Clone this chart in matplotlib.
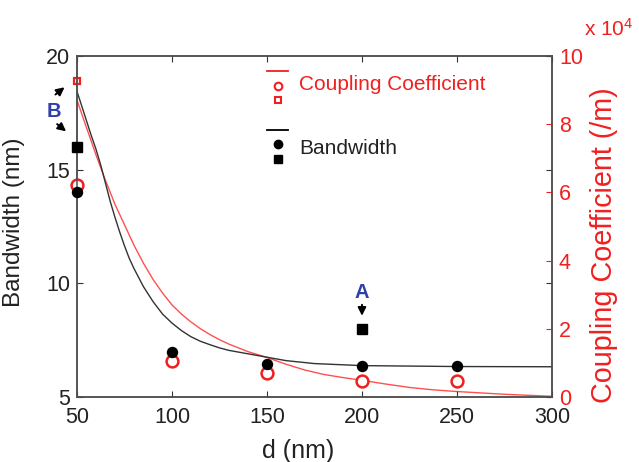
import matplotlib
matplotlib.use("Agg")
import matplotlib.pyplot as plt

plt.rcParams['font.family'] = ['Liberation Sans', 'DejaVu Sans']
plt.rcParams['mathtext.default'] = 'regular'

RED = '#f02020'
DARK = '#333333'
BLUE = '#3040a8'

# measured points
d_points = [50, 100, 150, 200, 250]
bandwidth_pts = [14.0, 7.0, 6.45, 6.37, 6.37]
coupling_pts = [6.22, 1.06, 0.71, 0.47, 0.47]   # x 10^4 /m

# special cases A (d=200) and B (d=50)
d_special = [50, 200]
bandwidth_special = [16.0, 8.0]
coupling_special = [9.28, 1.98]

# fitted curves
d_fit = [50, 52.5, 55, 57.5, 60, 62.5, 65, 67.5, 70, 72.5, 75, 77.5, 80, 85,
         90, 95, 100, 105, 110, 115, 120, 125, 130, 140, 150, 160, 175, 200,
         250, 300]
bandwidth_fit = [18.44, 17.8, 17.15, 16.5, 15.9, 15.2, 14.4, 13.6, 12.9,
                 12.25, 11.65, 11.1, 10.65, 9.85, 9.2, 8.65, 8.25, 7.92, 7.65,
                 7.45, 7.3, 7.16, 7.05, 6.9, 6.75, 6.6, 6.47, 6.38, 6.34, 6.33]
d_cfit = [50, 52.5, 55, 57.5, 60, 62.5, 65, 67.5, 70, 72.5, 75, 77.5, 80, 85,
          90, 95, 100, 105, 110, 115, 120, 125, 130, 140, 150, 160, 170, 180,
          190, 200, 212.5, 225, 237.5, 250, 275, 300]
coupling_fit = [8.71, 8.3, 7.9, 7.5, 7.1, 6.72, 6.35, 6.0, 5.65, 5.35, 5.05,
                4.75, 4.45, 3.92, 3.45, 3.05, 2.7, 2.43, 2.2, 2.0, 1.83, 1.68,
                1.55, 1.33, 1.16, 0.96, 0.79, 0.66, 0.57, 0.49, 0.38, 0.28,
                0.21, 0.16, 0.08, 0.02]

fig = plt.figure(figsize=(6.39, 4.62), dpi=100)
ax = fig.add_axes([0.1205, 0.1407, 0.7433, 0.7381])
ax2 = ax.twinx()

ax.plot(d_fit, bandwidth_fit, color=DARK, lw=1.0, zorder=2)
ax2.plot(d_cfit, coupling_fit, color='#ff5050', lw=1.0, zorder=2)

ax.plot(d_points, bandwidth_pts, 'o', color='black', ms=7.2, zorder=3, clip_on=False)
ax.plot(d_special, bandwidth_special, 's', color='black', ms=7.5, zorder=3, clip_on=False)
ax2.plot(d_points, coupling_pts, 'o', mfc='white', mec=RED, mew=1.8, ms=8.5,
         zorder=4, clip_on=False)
ax2.plot(d_special, coupling_special, 's', mfc='none', mec=RED, mew=1.6, ms=5,
         zorder=5, clip_on=False)

ax.set_xlim(50, 300)
ax.set_ylim(5, 20)
ax2.set_ylim(0, 10)
ax.set_xticks([50, 100, 150, 200, 250, 300])
ax.set_yticks([5, 10, 15, 20])
ax2.set_yticks([0, 2, 4, 6, 8, 10])

ax.tick_params(axis='y', direction='in', length=4, labelsize=15.5, right=True,
               color=DARK, labelcolor='#222222', pad=5)
ax.tick_params(axis='x', direction='in', length=4, labelsize=15.5, top=True,
               color=DARK, labelcolor='#222222', pad=7)
ax2.tick_params(direction='in', length=4, labelsize=15.5, color=RED,
                labelcolor=RED, pad=5)
for a in (ax, ax2):
    for sp in a.spines.values():
        sp.set_color('#505050')
        sp.set_linewidth(1.1)

ax.set_xlabel('d (nm)', fontsize=18, color='#222222')
ax.xaxis.set_label_coords(0.466, -0.122)
ax.set_ylabel('Bandwidth (nm)', fontsize=17.5, color='#222222')
ax.yaxis.set_label_coords(-0.109, 0.513)
ax2.set_ylabel('Coupling Coefficient (/m)', fontsize=20.7, color=RED)
ax2.yaxis.set_label_coords(1.08, 0.446)
fig.text(0.953, 0.937, r'x 10$^4$', fontsize=15, color=RED, ha='center', va='center')

# legend drawn by hand
ax.plot([150, 161], [19.32, 19.32], color=RED, lw=1.3)
ax.plot(155.8, 18.7, 'o', mfc='white', mec=RED, mew=1.5, ms=5.5)
ax.plot(155.8, 18.08, 's', mfc='white', mec=RED, mew=1.5, ms=4.5)
ax.text(167, 18.74, 'Coupling Coefficient', color=RED, fontsize=15, va='center')
ax.plot([150, 161], [16.76, 16.76], color='black', lw=1.3)
ax.plot(155.8, 16.15, 'o', color='black', ms=6)
ax.plot(155.8, 15.48, 's', color='black', ms=6)
ax.text(167, 15.93, 'Bandwidth', color='#222222', fontsize=15, va='center')

# labels A and B
arrow = dict(arrowstyle='-|>', color='black', lw=1.4, mutation_scale=12)
ax.text(37.7, 17.57, 'B', color=BLUE, fontsize=14.5, fontweight='bold',
        ha='center', va='center', clip_on=False)
ax.annotate('', xy=(44.6, 18.7), xytext=(37.5, 18.23), arrowprops=arrow,
            annotation_clip=False)
ax.annotate('', xy=(45.4, 16.61), xytext=(38.4, 17.08), arrowprops=arrow,
            annotation_clip=False)
ax.text(199.8, 9.58, 'A', color=BLUE, fontsize=14.5, fontweight='bold',
        ha='center', va='center')
ax.annotate('', xy=(200, 8.45), xytext=(200, 9.18), arrowprops=arrow)

ax.set_zorder(ax2.get_zorder() + 1)
ax.patch.set_visible(False)

fig.savefig('out.png', dpi=100)
